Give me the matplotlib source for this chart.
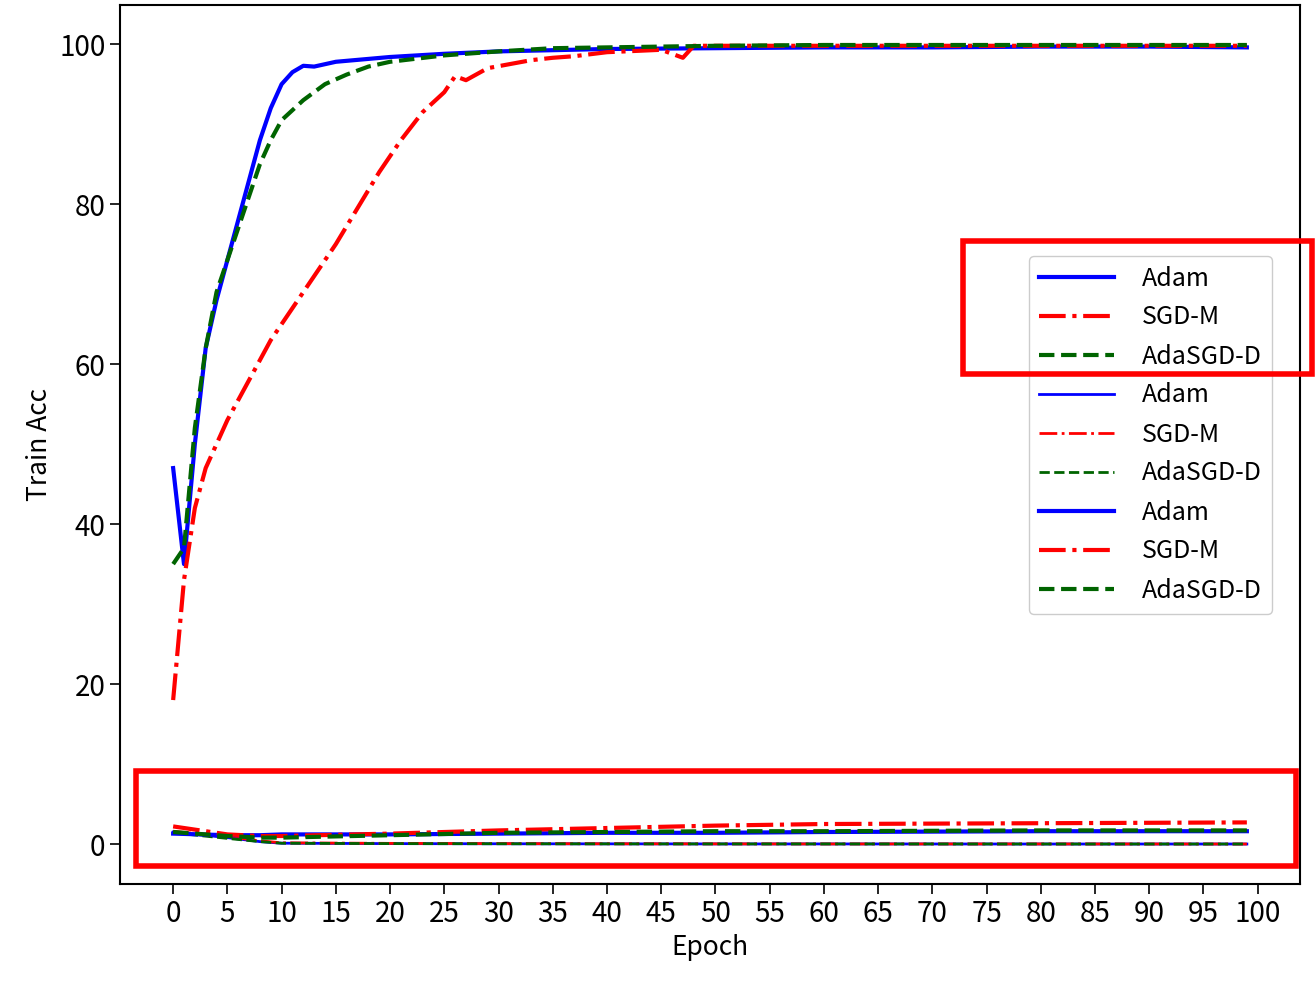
import matplotlib
matplotlib.use("Agg")
import matplotlib.pyplot as plt
from matplotlib.patches import Rectangle

plt.rcParams['font.family'] = ['Noto Sans CJK SC', 'DejaVu Sans']

adam_x = [0,1,2,3,4,5,6,7,8,9,10,11,12,13,15,20,25,30,40,50,60,70,80,90,99]
adam_y = [47,35,50,62,68,73,78,83,88,92,95,96.5,97.3,97.2,97.8,98.4,98.8,99.1,99.4,99.5,99.6,99.6,99.7,99.7,99.6]
ada_x = [0,1,2,3,4,5,6,7,8,9,10,12,14,16,18,20,25,30,35,40,50,60,99]
ada_y = [35,37,52,62,69,73,77,81,85,88,90.5,93,95,96.2,97.2,97.8,98.6,99.1,99.5,99.6,99.8,99.9,99.9]
sgd_x = [0,1,2,3,5,7,9,11,13,15,17,19,21,23,25,26,27,29,31,33,35,37,40,45,47,48,50,99]
sgd_y = [18,33,42,47,53,58,63,67,71,75,79.5,84,88,91.5,94,96,95.5,97,97.5,98,98.3,98.5,99,99.3,98.3,99.8,99.8,99.8]

low_x = [0,5,8,10,20,30,40,50,60,80,99]
zero_adam = [1.5,0.8,0.3,0.1,0.05,0.03,0.02,0.01,0.01,0.0,0.0]
zero_sgd = [1.6,0.9,0.4,0.15,0.08,0.05,0.03,0.02,0.01,0.01,0.0]
zero_ada = [1.4,0.7,0.3,0.1,0.05,0.03,0.02,0.01,0.01,0.0,0.0]
loss_adam = [1.3,1.1,1.1,1.2,1.2,1.3,1.4,1.4,1.5,1.6,1.6]
loss_sgd = [2.2,1.2,1.0,1.0,1.3,1.7,2.0,2.3,2.5,2.6,2.7]
loss_ada = [1.5,1.0,0.8,0.8,1.1,1.4,1.5,1.6,1.6,1.7,1.7]

labels = ['Adam', 'SGD-M', 'AdaSGD-D']
xticks = list(range(0, 101, 5))
yticks = [0, 20, 40, 60, 80, 100]

fig = plt.figure(figsize=(13.16, 9.84), dpi=100)
ax = fig.add_axes([120/1316, 1-884/984, 1180/1316, 879/984])

ax.plot(adam_x, adam_y, color='blue', lw=3, ls='-', label=labels[0])
ax.plot(sgd_x, sgd_y, color='red', lw=3, ls='-.', label=labels[1])
ax.plot(ada_x, ada_y, color='darkgreen', lw=3, ls='--', label=labels[2])
ax.plot(low_x, zero_adam, color='blue', lw=2, ls='-', label=labels[0])
ax.plot(low_x, zero_sgd, color='red', lw=2, ls='-.', label=labels[1])
ax.plot(low_x, zero_ada, color='darkgreen', lw=2, ls='--', label=labels[2])
ax.plot(low_x, loss_adam, color='blue', lw=3, ls='-', label=labels[0])
ax.plot(low_x, loss_sgd, color='red', lw=3, ls='-.', label=labels[1])
ax.plot(low_x, loss_ada, color='darkgreen', lw=3, ls='--', label=labels[2])

ax.set_xlim(-4.9, 103.9)
ax.set_ylim(-5, 104.9)
ax.set_xticks(xticks)
ax.set_yticks(yticks)
ax.tick_params(labelsize=20, length=7, width=1.2)
for s in ax.spines.values():
    s.set_linewidth(1.5)
ax.set_xlabel('Epoch', fontsize=19)
ax.set_ylabel('Train Acc', fontsize=19)

leg = ax.legend(loc='upper right', bbox_to_anchor=((1284-120)/1180, (884-243)/879),
                fontsize=18, handlelength=3.0, labelspacing=0.52, framealpha=1,
                borderpad=0.4, handletextpad=1.1)

fig.patches.append(Rectangle((963/1316, 1-374/984), 349/1316, 133/984,
                             transform=fig.transFigure, fill=False, ec='red', lw=4))
fig.patches.append(Rectangle((136/1316, 1-866/984), 1160/1316, 95/984,
                             transform=fig.transFigure, fill=False, ec='red', lw=4))

fig.savefig('out.png', dpi=100)
